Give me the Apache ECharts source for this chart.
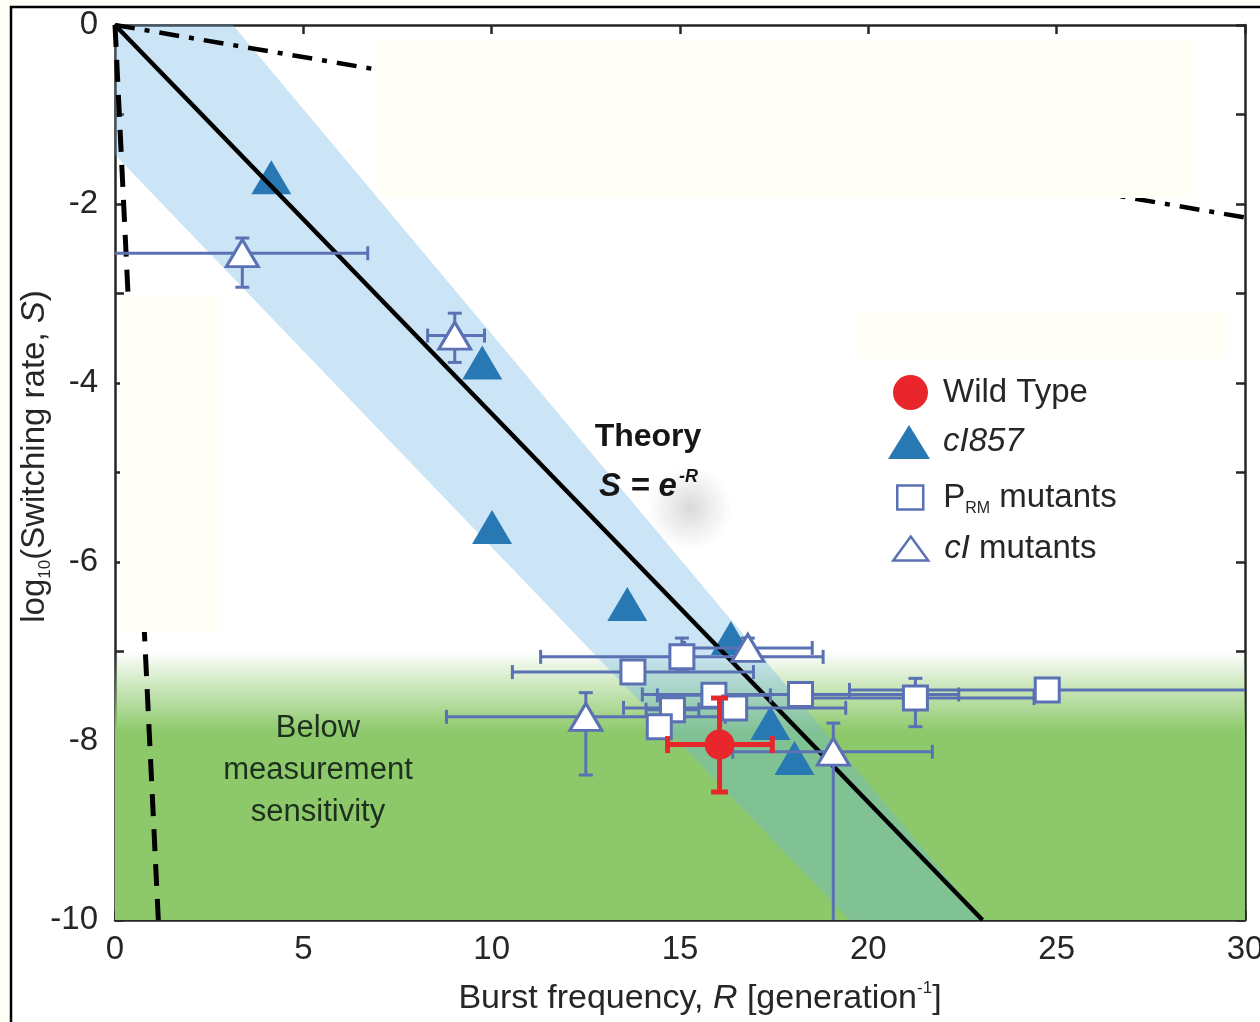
<!DOCTYPE html>
<html>
<head>
<meta charset="utf-8">
<script src="https://cdn.jsdelivr.net/npm/echarts@6/dist/echarts.min.js"></script>
<style>
  html, body { margin: 0; padding: 0; background: #fffff7; }
  #chart { width: 1260px; height: 1022px; }
</style>
</head>
<body>
<div id="chart"></div>
<script>
// Each row: burst frequency R, log10 S, R low, R high, log10 S low, log10 S high
const wildType = [
  [16.05, -8.04, 14.67, 17.45, -8.57, -7.52]
];
// cI857 strain: R, log10 S (no error bars)
const cI857 = [
  [4.15, -1.70], [9.75, -3.77], [10.01, -5.61], [13.60, -6.47],
  [16.35, -6.85], [17.40, -7.80], [18.04, -8.19]
];
const prmMutants = [
  [13.75, -7.23, 10.55, 16.95, -7.23, -7.23],
  [15.05, -7.06, 11.30, 18.80, -7.20, -6.85],
  [15.90, -7.49, 14.40, 17.40, -7.49, -7.49],
  [16.45, -7.63, 13.50, 19.40, -7.63, -7.63],
  [14.80, -7.65, 14.10, 15.50, -7.65, -7.65],
  [14.45, -7.84, 14.45, 14.45, -7.84, -7.84],
  [18.20, -7.48, 14.00, 22.40, -7.48, -7.48],
  [21.25, -7.52, 18.00, 24.40, -7.84, -7.30],
  [24.75, -7.43, 19.50, 31.00, -7.43, -7.43]
];
const cIMutants = [
  [3.38, -2.55, -0.60, 6.71, -2.93, -2.38],
  [9.02, -3.47, 8.30, 9.81, -3.77, -3.22],
  [16.80, -6.96, 15.12, 18.51, -7.10, -6.85],
  [12.50, -7.73, 8.80, 16.20, -8.38, -7.46],
  [19.07, -8.12, 16.40, 21.70, -10.60, -7.80]
];
// Theory S = e^-R drawn as log10 S = -R log10(e)
const theoryLine = [[0, 0], [23.03, -10]];
// Spread around the theory line
const theoryBand = [[0, 0], [3.13, 0], [23.03, -10], [19.5, -10], [0, -1.45]];
// Sensitivity floor region (log10 S from -7 down to the axis floor)
const sensitivityRegion = { rFrom: 0, rTo: 30, sTop: -7, sBottom: -10 };
// Reference guide lines
const dashDotLine = [[0, 0], [30, -2.15]];
const dashedLine = [[0, 0], [1.15, -10]];
// Axis ranges
const xRange = [0, 30, 5];
const yRange = [-10, 0, 2];

const FONT = 'Liberation Sans, Arial, Helvetica, sans-serif';
const INK = '#262626';
const OPEN_BLUE = '#5a72b4';
const FILL_BLUE = '#2878b4';
const RED = '#e8262b';
const GREEN = '141,201,107';
const PALE = '#fffff8';

const chart = echarts.init(document.getElementById('chart'), null, { renderer: 'canvas' });

function errorBars(color, lineW, capLen) {
  return function (params, api) {
    const r = api.value(0), s = api.value(1);
    const rLo = api.value(2), rHi = api.value(3), sLo = api.value(4), sHi = api.value(5);
    const st = { stroke: color, lineWidth: lineW };
    const kids = [];
    const seg = (x1, y1, x2, y2) => kids.push({ type: 'line', shape: { x1, y1, x2, y2 }, style: st });
    if (rHi > rLo) {
      const a = api.coord([rLo, s]), b = api.coord([rHi, s]);
      seg(a[0], a[1], b[0], b[1]);
      seg(a[0], a[1] - capLen / 2, a[0], a[1] + capLen / 2);
      seg(b[0], b[1] - capLen / 2, b[0], b[1] + capLen / 2);
    }
    if (sHi > sLo) {
      const a = api.coord([r, sLo]), b = api.coord([r, sHi]);
      seg(a[0], a[1], b[0], b[1]);
      seg(a[0] - capLen / 2, a[1], a[0] + capLen / 2, a[1]);
      seg(b[0] - capLen / 2, b[1], b[0] + capLen / 2, b[1]);
    }
    return { type: 'group', children: kids };
  };
}

const baseAxis = {
  type: 'value',
  axisLine: { show: true, onZero: false, lineStyle: { color: INK, width: 2.5 } },
  axisTick: { show: true, inside: true, length: 9, lineStyle: { color: INK, width: 2.5 } },
  splitLine: { show: false }
};

const legendText = {
  fontSize: 33, fontFamily: FONT, color: INK,
  rich: {
    n: { fontSize: 33, fontFamily: FONT, color: INK, lineHeight: 38 },
    i: { fontSize: 33, fontFamily: FONT, color: INK, fontStyle: 'italic', lineHeight: 38 },
    sub: { fontSize: 16, fontFamily: FONT, color: INK, lineHeight: 16, verticalAlign: 'bottom' }
  }
};
function legendAt(name, icon, left, top, w, h, textPad, itemStyle, fmt) {
  return {
    data: [{ name, icon, itemStyle }],
    orient: 'vertical', left, top, itemWidth: w, itemHeight: h,
    selectedMode: false,
    formatter: () => fmt,
    textStyle: Object.assign({ padding: [0, 0, 0, textPad] }, legendText)
  };
}

const option = {
  backgroundColor: '#fffff7',
  animation: false,
  grid: { left: 115, right: 15, top: 25, bottom: 102, containLabel: false, outerBoundsMode: 'none' },
  xAxis: [
    Object.assign({}, baseAxis, {
      min: xRange[0], max: xRange[1], interval: xRange[2], position: 'bottom',
      axisLabel: { fontSize: 33, fontFamily: FONT, color: INK, margin: 13 },
      name: '{n|Burst frequency, }{i|R}{n| [generation}{sup|-1}{n|]}',
      nameLocation: 'middle', nameGap: 60,
      nameTextStyle: {
        padding: [0, 0, 0, 40],
        rich: {
          n: { fontSize: 34, fontFamily: FONT, color: INK, lineHeight: 38 },
          i: { fontSize: 34, fontFamily: FONT, color: INK, fontStyle: 'italic', lineHeight: 38 },
          sup: { fontSize: 17, fontFamily: FONT, color: INK, lineHeight: 17, verticalAlign: 'top' }
        }
      }
    }),
    Object.assign({}, baseAxis, {
      min: xRange[0], max: xRange[1], interval: xRange[2], position: 'top',
      axisLabel: { show: false }
    })
  ],
  yAxis: [
    Object.assign({}, baseAxis, {
      min: yRange[0], max: yRange[1], interval: yRange[2], position: 'left',
      minorTick: { show: true, splitNumber: 2, length: 9, lineStyle: { color: INK, width: 2.5 } },
      axisLabel: { fontSize: 33, fontFamily: FONT, color: INK, margin: 17 },
      name: '{n|log}{sub|10}{n|(Switching rate, }{i|S}{n|)}',
      nameLocation: 'middle', nameGap: 61, nameMoveOverlap: false,
      nameTextStyle: {
        padding: [0, 0, 0, 32],
        rich: {
          n: { fontSize: 33, fontFamily: FONT, color: INK, lineHeight: 38 },
          i: { fontSize: 33, fontFamily: FONT, color: INK, fontStyle: 'italic', lineHeight: 38 },
          sub: { fontSize: 17, fontFamily: FONT, color: INK, lineHeight: 17, verticalAlign: 'bottom' }
        }
      }
    }),
    Object.assign({}, baseAxis, {
      min: yRange[0], max: yRange[1], interval: yRange[2], position: 'right',
      minorTick: { show: true, splitNumber: 2, length: 9, lineStyle: { color: INK, width: 2.5 } },
      axisLabel: { show: false }
    })
  ],
  legend: [
    legendAt('Wild Type', 'circle', 888, 370, 35, 35, 10,
      { color: RED, borderWidth: 0 }, '{n|Wild Type}'),
    legendAt('cI857', 'triangle', 883, 420, 42, 34, 8,
      { color: FILL_BLUE, borderWidth: 0 }, '{i|cI857}'),
    legendAt('PRM mutants', 'rect', 891, 476, 26, 24, 15,
      { color: '#fff', borderColor: OPEN_BLUE, borderWidth: 2.5 }, '{n|P}{sub|RM}{n| mutants}'),
    legendAt('cI mutants', 'triangle', 887, 527, 35, 24, 11,
      { color: '#fff', borderColor: OPEN_BLUE, borderWidth: 2.5 }, '{i|cI}{n| mutants}')
  ],
  graphic: [
    // page frame
    { type: 'rect', z: -100, shape: { x: 11, y: 7, width: 1260, height: 1030 },
      style: { fill: '#ffffff', stroke: '#000', lineWidth: 2.5 } },
    // soft glow under the theory formula
    { type: 'ellipse', z: 1, shape: { cx: 690, cy: 508, rx: 105, ry: 42 },
      style: { fill: new echarts.graphic.RadialGradient(0.5, 0.5, 0.5, [
        { offset: 0, color: 'rgba(0,0,0,0.15)' },
        { offset: 0.5, color: 'rgba(0,0,0,0.07)' },
        { offset: 1, color: 'rgba(0,0,0,0)' }
      ]) } },
    { type: 'text', z: 50, x: 648, y: 437,
      style: { text: 'Theory', font: 'bold 32px ' + FONT, fill: '#151515', align: 'center', verticalAlign: 'middle' } },
    { type: 'text', z: 50, x: 599, y: 487,
      style: {
        text: '{m|S = e}{sup|-R}', align: 'left', verticalAlign: 'middle',
        rich: {
          m: { fontSize: 33, fontFamily: FONT, fontStyle: 'italic', fontWeight: 'bold', fill: '#151515', lineHeight: 38 },
          sup: { fontSize: 18, fontFamily: FONT, fontStyle: 'italic', fontWeight: 'bold', fill: '#151515', lineHeight: 18, verticalAlign: 'top', padding: [0, 0, 0, 2] }
        }
      } },
    { type: 'text', z: 50, x: 318, y: 770,
      style: { text: 'Below\nmeasurement\nsensitivity', font: '31px ' + FONT, fill: '#1d301d',
        align: 'center', verticalAlign: 'middle', lineHeight: 42 } },
    // pale patches laid over the upper plot area
    { type: 'rect', z: 40, shape: { x: 380, y: 40, width: 815, height: 158 }, style: { fill: PALE } },
    { type: 'rect', z: 40, shape: { x: 120, y: 295, width: 100, height: 337 }, style: { fill: PALE } },
    { type: 'rect', z: 40, shape: { x: 860, y: 312, width: 368, height: 47 }, style: { fill: PALE } }
  ],
  series: [
    {
      type: 'custom', name: 'sensitivity', silent: true, clip: true, z: 1,
      data: [[sensitivityRegion.rFrom, sensitivityRegion.sTop]],
      renderItem: (params, api) => {
        const a = api.coord([sensitivityRegion.rFrom, sensitivityRegion.sTop]);
        const b = api.coord([sensitivityRegion.rTo, sensitivityRegion.sBottom]);
        return {
          type: 'rect', shape: { x: a[0], y: a[1], width: b[0] - a[0], height: b[1] - a[1] },
          style: { fill: new echarts.graphic.LinearGradient(0, 0, 0, 1, [
            { offset: 0, color: 'rgba(' + GREEN + ',0)' },
            { offset: 0.1, color: 'rgba(' + GREEN + ',0.35)' },
            { offset: 0.3, color: 'rgba(' + GREEN + ',1)' },
            { offset: 1, color: 'rgba(' + GREEN + ',1)' }
          ]) }
        };
      }
    },
    {
      type: 'custom', name: 'band', silent: true, clip: true, z: 2,
      data: [theoryBand[0]],
      renderItem: (params, api) => ({
        type: 'polygon', shape: { points: theoryBand.map(p => api.coord(p)) },
        style: { fill: 'rgba(110,180,230,0.35)' }
      })
    },
    {
      type: 'line', name: 'dashdot', data: dashDotLine, symbol: 'none', silent: true, z: 3,
      lineStyle: { color: '#000', width: 4.5, type: [20, 10, 5, 10] }
    },
    {
      type: 'line', name: 'dashed', data: dashedLine, symbol: 'none', silent: true, z: 3,
      lineStyle: { color: '#000', width: 5, type: [22, 13] }
    },
    {
      type: 'scatter', name: 'cI857', data: cI857, z: 4,
      symbol: 'triangle', symbolSize: [40, 34],
      itemStyle: { color: FILL_BLUE, opacity: 1 }
    },
    {
      type: 'line', name: 'theory', data: theoryLine, symbol: 'none', silent: true, z: 5,
      lineStyle: { color: '#000', width: 4.5 }
    },
    {
      type: 'custom', name: 'prmErr', silent: true, clip: true, z: 6,
      data: prmMutants, encode: { x: 0, y: 1 },
      renderItem: errorBars(OPEN_BLUE, 3, 14)
    },
    {
      type: 'custom', name: 'cIErr', silent: true, clip: true, z: 6,
      data: cIMutants, encode: { x: 0, y: 1 },
      renderItem: errorBars(OPEN_BLUE, 3, 14)
    },
    {
      type: 'scatter', name: 'PRM mutants', z: 7,
      data: prmMutants.map(d => [d[0], d[1]]),
      symbol: 'rect', symbolSize: 24,
      itemStyle: { color: '#fff', borderColor: OPEN_BLUE, borderWidth: 3, opacity: 1 }
    },
    {
      type: 'scatter', name: 'cI mutants', z: 7,
      data: cIMutants.map(d => [d[0], d[1]]),
      symbol: 'triangle', symbolSize: [32, 27],
      itemStyle: { color: '#fff', borderColor: OPEN_BLUE, borderWidth: 3, opacity: 1 }
    },
    {
      type: 'custom', name: 'wtErr', silent: true, clip: true, z: 8,
      data: wildType, encode: { x: 0, y: 1 },
      renderItem: errorBars(RED, 5, 17)
    },
    {
      type: 'scatter', name: 'Wild Type', z: 9,
      data: wildType.map(d => [d[0], d[1]]),
      symbol: 'circle', symbolSize: 30,
      itemStyle: { color: RED, opacity: 1 }
    }
  ]
};

chart.setOption(option);
</script>
</body>
</html>
